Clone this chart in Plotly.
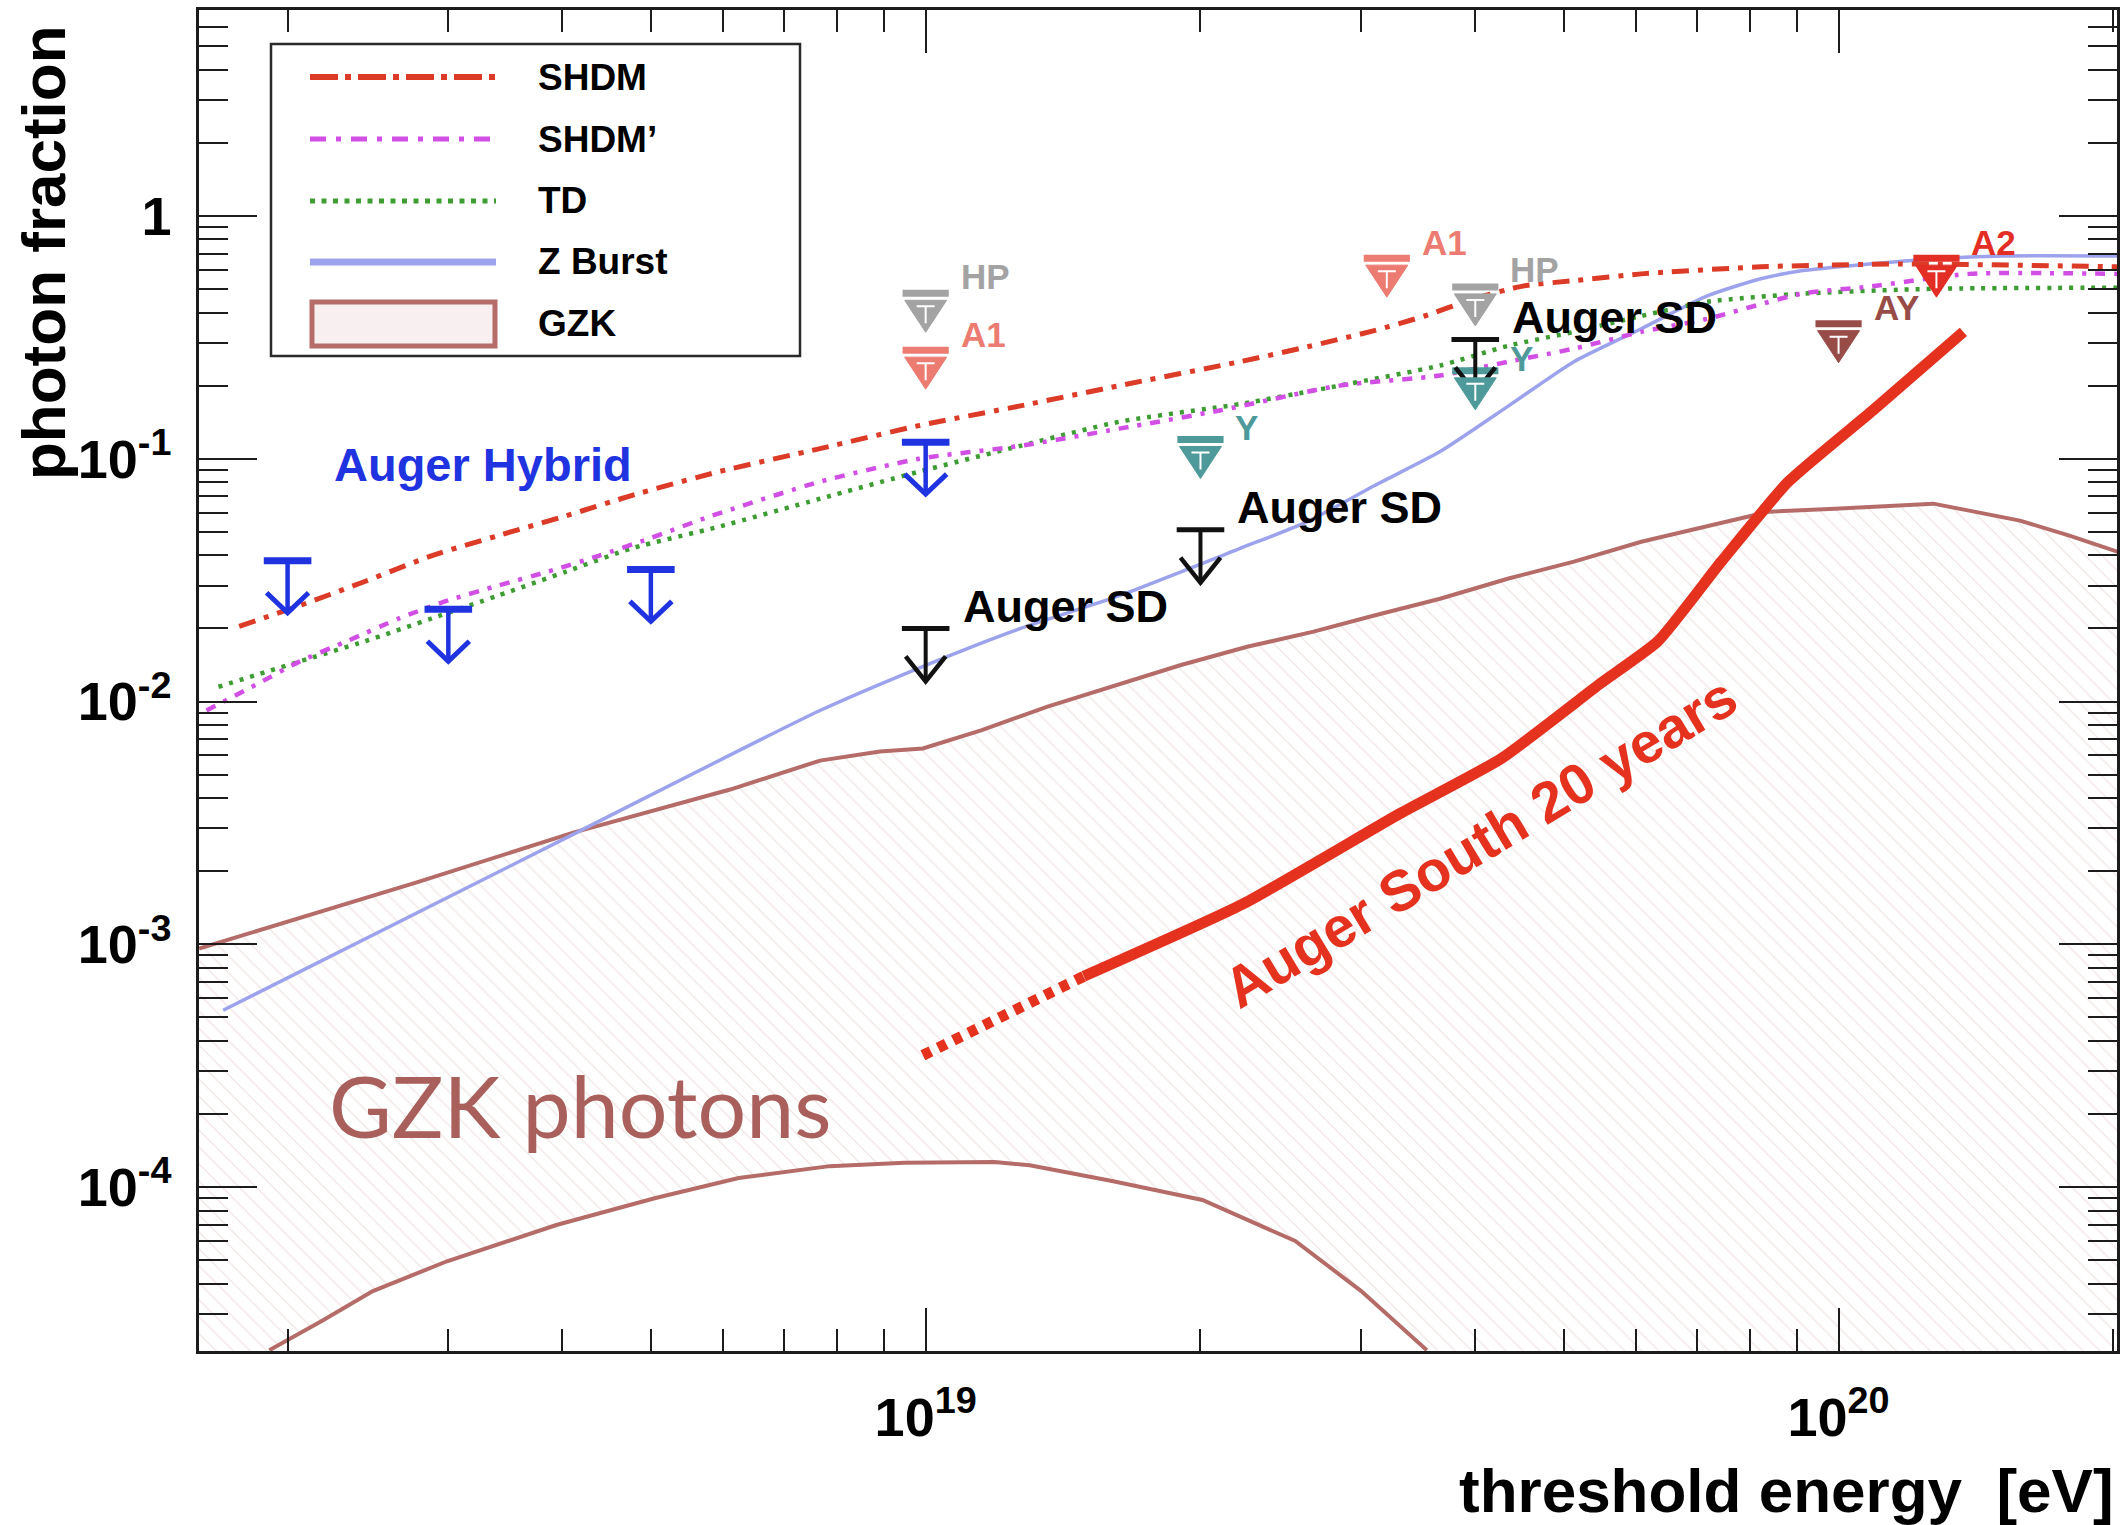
import numpy as np
import plotly.graph_objects as go

# ---------------------------------------------------------------------------
# Model predictions: photon fraction of the flux above threshold energy [eV]
# ---------------------------------------------------------------------------
shdm_E = [1.77e18, 2.06e18, 2.43e18, 2.88e18, 3.40e18, 4.04e18, 4.76e18, 5.94e18,
          7.66e18, 9.84e18, 1.27e19, 1.63e19, 2.21e19, 2.62e19, 3.10e19, 3.52e19,
          3.98e19, 4.52e19, 5.13e19, 6.08e19, 8.22e19, 1.17e20, 2.02e20]
shdm_f = [0.0204, 0.0248, 0.0312, 0.0399, 0.0482, 0.0582, 0.0705, 0.0885,
          0.110, 0.137, 0.165, 0.200, 0.251, 0.289, 0.337, 0.387,
          0.455, 0.515, 0.541, 0.577, 0.617, 0.634, 0.617]

shdmp_E = [1.63e18, 1.86e18, 2.06e18, 2.33e18, 2.65e18, 3.00e18, 3.40e18, 3.86e18,
           4.39e18, 4.98e18, 5.83e18, 7.66e18, 9.84e18, 1.27e19, 1.63e19, 2.10e19,
           2.84e19, 3.66e19, 4.35e19, 5.13e19, 6.08e19, 7.19e19, 9.10e19, 1.08e20,
           1.39e20, 2.02e20]
shdmp_f = [0.00918, 0.0119, 0.0146, 0.0178, 0.0220, 0.0261, 0.0300, 0.0343,
           0.0399, 0.0469, 0.0582, 0.0804, 0.100, 0.113, 0.133, 0.158,
           0.200, 0.220, 0.251, 0.284, 0.333, 0.377, 0.478, 0.511,
           0.577, 0.577]

td_E = [1.68e18, 2.06e18, 2.43e18, 2.88e18, 3.40e18, 4.04e18, 4.76e18, 5.94e18,
        7.66e18, 9.84e18, 1.27e19, 1.63e19, 2.21e19, 2.84e19, 3.66e19, 4.35e19,
        5.13e19, 6.08e19, 7.19e19, 9.10e19, 1.27e20, 2.02e20]
td_f = [0.0115, 0.0146, 0.0177, 0.0220, 0.0273, 0.0343, 0.0427, 0.0525,
        0.0684, 0.0885, 0.113, 0.142, 0.168, 0.200, 0.242, 0.292,
        0.333, 0.387, 0.443, 0.478, 0.501, 0.506]

zb_E = [1.70e18, 4.12e18, 7.66e18, 1.00e19, 1.27e19, 1.63e19, 2.21e19, 2.62e19,
        3.10e19, 3.66e19, 4.35e19, 5.13e19, 6.08e19, 7.19e19, 8.22e19, 9.10e19,
        1.08e20, 1.27e20, 1.51e20, 2.02e20]
zb_f = [5.35e-4, 2.85e-3, 9.18e-3, 1.41e-2, 2.00e-2, 2.73e-2, 4.27e-2, 5.51e-2,
        7.74e-2, 0.107, 0.165, 0.251, 0.343, 0.469, 0.551, 0.594,
        0.634, 0.665, 0.684, 0.684]

# GZK photon band: upper and lower edge
gzk_hi_E = [1.60e18, 2.77e18, 4.12e18, 6.12e18, 7.66e18, 8.91e18, 9.93e18, 1.15e19,
            1.36e19, 1.60e19, 1.90e19, 2.25e19, 2.66e19, 3.10e19, 3.66e19, 4.35e19,
            5.13e19, 6.08e19, 7.19e19, 8.38e19, 9.91e19, 1.27e20, 1.39e20, 1.58e20,
            1.79e20, 2.02e20]
gzk_hi_f = [9.6e-4, 1.80e-3, 2.89e-3, 4.35e-3, 5.71e-3, 6.22e-3, 6.41e-3, 7.60e-3,
            9.53e-3, 1.15e-2, 1.41e-2, 1.68e-2, 1.94e-2, 2.26e-2, 2.65e-2, 3.21e-2,
            3.77e-2, 4.55e-2, 5.30e-2, 6.05e-2, 6.22e-2, 6.53e-2, 6.11e-2, 5.56e-2,
            4.82e-2, 4.14e-2]
gzk_lo_E = [1.91e18, 2.18e18, 2.48e18, 2.99e18, 3.94e18, 5.06e18, 6.24e18, 7.85e18,
            9.48e18, 1.19e19, 1.30e19, 1.60e19, 2.01e19, 2.54e19, 3.00e19, 3.54e19]
gzk_lo_f = [2.13e-5, 2.81e-5, 3.73e-5, 4.95e-5, 6.98e-5, 9.02e-5, 1.09e-4, 1.22e-4,
            1.26e-4, 1.27e-4, 1.23e-4, 1.06e-4, 8.85e-5, 6.00e-5, 3.73e-5, 2.13e-5]

# Expected Auger South sensitivity after 20 years (dotted part = extrapolation)
south_ext_E = [9.93e18, 1.49e19]
south_ext_f = [3.49e-4, 7.38e-4]
south_E = [1.49e19, 2.23e19, 3.31e19, 4.27e19, 5.49e19, 6.34e19, 7.44e19, 8.81e19,
           1.09e20, 1.37e20]
south_f = [7.38e-4, 1.47e-3, 3.46e-3, 5.82e-3, 1.19e-2, 1.77e-2, 3.77e-2, 8.04e-2,
           0.158, 0.333]

# Upper limits on the photon fraction
hybrid_E = [2e18, 3e18, 5e18, 1e19]
hybrid_lim = [0.038, 0.024, 0.035, 0.117]
sd_E = [1e19, 2e19, 4e19]
sd_lim = [0.020, 0.051, 0.31]
hp_E = [1e19, 4e19]
hp_lim = [0.48, 0.51]
a1_E = [1e19, 3.2e19]
a1_lim = [0.28, 0.67]
yak_E = [2e19, 4e19]
yak_lim = [0.12, 0.23]
ay_E = [1e20]
ay_lim = [0.36]
a2_E = [1.28e20]
a2_lim = [0.67]

# ---------------------------------------------------------------------------
# Page / axis geometry
# ---------------------------------------------------------------------------
W, H = 2123, 1525
M_L, M_R, M_T, M_B = 199, 6, 10, 174
X_RANGE = [18.204, 20.305]          # log10(E / eV)
Y_RANGE = [-4.675, 0.848]           # log10(photon fraction)

FONT = "Liberation Sans, Arial, Helvetica, sans-serif"
AXIS_COLOR = "#1c1c1c"

C_SHDM = "#dc3b28"
C_SHDMP = "#d24fe6"
C_TD = "#3d9d32"
C_ZB = "#9ca3ec"
C_GZK = "#b56c68"
C_SOUTH = "#e4321f"
C_HYB = "#1f33e0"
C_SD = "#111111"
C_HP = "#a3a3a3"
C_A1 = "#ec7b71"
C_Y = "#4e9a9a"
C_AY = "#984c48"
C_A2 = "#e22e24"


def px_x(px):
    """page pixel column -> paper x"""
    return (px - M_L) / (W - M_L - M_R)


def px_y(py):
    """page pixel row -> paper y"""
    return (H - M_B - py) / (H - M_T - M_B)


fig = go.Figure()

# GZK band, hatched, closed along the bottom of the frame
floor = 10 ** (Y_RANGE[0] - 0.05)
band_x = gzk_hi_E + [10 ** X_RANGE[1]] + gzk_lo_E[::-1] + [10 ** X_RANGE[0]]
band_y = gzk_hi_f + [floor] + gzk_lo_f[::-1] + [floor]
fig.add_trace(go.Scatter(
    x=band_x, y=band_y, mode="none", fill="toself",
    fillcolor="rgba(255,255,255,0)",
    fillpattern=dict(shape="\\", size=12, solidity=0.11,
                     fgcolor="rgba(200,150,150,0.5)",
                     bgcolor="rgba(255,255,255,0)"),
    hoverinfo="skip"))

for xs, ys in ((gzk_hi_E, gzk_hi_f), (gzk_lo_E, gzk_lo_f)):
    fig.add_trace(go.Scatter(x=xs, y=ys, mode="lines",
                             line=dict(color=C_GZK, width=4)))

# theory curves
fig.add_trace(go.Scatter(x=zb_E, y=zb_f, mode="lines",
                         line=dict(color=C_ZB, width=3.5, shape="spline", smoothing=0.6)))
fig.add_trace(go.Scatter(x=td_E, y=td_f, mode="lines",
                         line=dict(color=C_TD, width=4.5, dash="4px,7px",
                                   shape="spline", smoothing=0.6)))
fig.add_trace(go.Scatter(x=shdmp_E, y=shdmp_f, mode="lines",
                         line=dict(color=C_SHDMP, width=4.5, dash="10px,9px,4px,9px",
                                   shape="spline", smoothing=0.6)))
fig.add_trace(go.Scatter(x=shdm_E, y=shdm_f, mode="lines",
                         line=dict(color=C_SHDM, width=5, dash="17px,9px,5px,9px",
                                   shape="spline", smoothing=0.6)))

# Auger South 20 years sensitivity
fig.add_trace(go.Scatter(x=south_ext_E, y=south_ext_f, mode="lines",
                         line=dict(color=C_SOUTH, width=11, dash="9px,8px")))
fig.add_trace(go.Scatter(x=south_E, y=south_f, mode="lines",
                         line=dict(color=C_SOUTH, width=11, shape="spline", smoothing=0.5)))

# ---------------------------------------------------------------------------
# Upper-limit symbols: horizontal bar (trace marker) + pixel-sized glyph below
# ---------------------------------------------------------------------------
shapes = []


def glyph_anchor(e, v):
    return dict(type="path", xref="x", yref="y", xsizemode="pixel", ysizemode="pixel",
                xanchor=e, yanchor=v, layer="above")


def arrow_limits(E, lim, color, bar_w, stem_w, head):
    fig.add_trace(go.Scatter(x=E, y=lim, mode="markers",
                             marker=dict(symbol="line-ew", size=34,
                                         line=dict(color=color, width=bar_w))))
    hx, hy, tip = head
    for e, v in zip(E, lim):
        shapes.append(dict(glyph_anchor(e, v), path=f"M0,0 L0,{-tip + 2}",
                           line=dict(color=color, width=stem_w)))
        shapes.append(dict(glyph_anchor(e, v),
                           path=f"M{-hx},{-hy} L0,{-tip} L{hx},{-hy}",
                           line=dict(color=color, width=stem_w + 0.5)))


def triangle_limits(E, lim, color):
    fig.add_trace(go.Scatter(x=E, y=lim, mode="markers",
                             marker=dict(symbol="line-ew", size=33,
                                         line=dict(color=color, width=7))))
    for e, v in zip(E, lim):
        shapes.append(dict(glyph_anchor(e, v), path="M-21,-7 L21,-7 L0,-39 Z",
                           fillcolor=color, line=dict(color=color, width=1)))
        shapes.append(dict(glyph_anchor(e, v), path="M-9,-13 L9,-13 M0,-13 L0,-30",
                           line=dict(color="white", width=2)))


arrow_limits(hybrid_E, hybrid_lim, C_HYB, 7, 4.5, (21, 32, 52))
arrow_limits(sd_E, sd_lim, C_SD, 5, 4, (20, 28, 53))
triangle_limits(hp_E, hp_lim, C_HP)
triangle_limits(a1_E, a1_lim, C_A1)
triangle_limits(yak_E, yak_lim, C_Y)
triangle_limits(ay_E, ay_lim, C_AY)
triangle_limits(a2_E, a2_lim, C_A2)

# ---------------------------------------------------------------------------
# Text labels
# ---------------------------------------------------------------------------
annotations = []


def data_label(E, v, text, color, size, xshift, yshift):
    annotations.append(dict(
        x=float(np.log10(E)), y=float(np.log10(v)), xref="x", yref="y",
        text=text, showarrow=False, xanchor="left", yanchor="middle",
        xshift=xshift, yshift=yshift,
        font=dict(family=FONT, size=size, color=color, weight="bold")))


for e, v in zip(sd_E, sd_lim):
    data_label(e, v, "Auger SD", "black", 45, 35, 22)
for E, L, name, col, dy in ((hp_E, hp_lim, "HP", C_HP, 17), (a1_E, a1_lim, "A1", C_A1, 16),
                            (yak_E, yak_lim, "Y", C_Y, 12), (ay_E, ay_lim, "AY", C_AY, 16),
                            (a2_E, a2_lim, "A2", C_A2, 16)):
    for e, v in zip(E, L):
        data_label(e, v, name, col, 35, 33, dy)

annotations.append(dict(
    x=18.350, y=-1.0255, xref="x", yref="y", text="Auger Hybrid", showarrow=False,
    xanchor="left", yanchor="middle",
    font=dict(family=FONT, size=47, color=C_HYB, weight="bold")))

annotations.append(dict(
    x=19.607, y=-2.578, xref="x", yref="y", text="Auger South 20 years",
    showarrow=False, xanchor="center", yanchor="middle", textangle=-31,
    font=dict(family=FONT, size=57, color=C_SOUTH, weight="bold")))

annotations.append(dict(
    x=18.3445, y=-3.661, xref="x", yref="y", text="GZK photons", showarrow=False,
    xanchor="left", yanchor="middle",
    font=dict(family="Lato, Open Sans, sans-serif", size=86, color="#a9605c")))

# axis titles
annotations.append(dict(
    x=px_x(44), y=px_y(253), xref="paper", yref="paper", text="photon fraction",
    showarrow=False, textangle=-90, xanchor="center", yanchor="middle",
    font=dict(family=FONT, size=62, color="black", weight="bold")))
annotations.append(dict(
    x=px_x(2116), y=px_y(1490), xref="paper", yref="paper",
    text="threshold energy\u00a0 [eV]", showarrow=False,
    xanchor="right", yanchor="middle",
    font=dict(family=FONT, size=62, color="black", weight="bold")))

# ---------------------------------------------------------------------------
# Legend box
# ---------------------------------------------------------------------------
shapes.append(dict(type="rect", xref="paper", yref="paper",
                   x0=px_x(271), x1=px_x(800), y0=px_y(356), y1=px_y(44),
                   line=dict(color="#2a2a2a", width=2.5), fillcolor="white", layer="above"))
legend_rows = [
    ("SHDM", 77, dict(color=C_SHDM, width=6, dash="28px,7px,6px,7px")),
    ("SHDM\u2019", 139, dict(color=C_SHDMP, width=5, dash="16px,10px,5px,10px")),
    ("TD", 201, dict(color=C_TD, width=5, dash="5px,6.5px")),
    ("Z Burst", 262, dict(color=C_ZB, width=7)),
    ("GZK", 323, None),
]
for label, row, style in legend_rows:
    if style is None:
        shapes.append(dict(type="rect", xref="paper", yref="paper",
                           x0=px_x(312), x1=px_x(495), y0=px_y(346), y1=px_y(302),
                           line=dict(color=C_GZK, width=5),
                           fillcolor="rgba(222,185,185,0.22)", layer="above"))
    else:
        shapes.append(dict(type="line", xref="paper", yref="paper",
                           x0=px_x(310), x1=px_x(496), y0=px_y(row), y1=px_y(row),
                           line=style, layer="above"))
    annotations.append(dict(
        x=px_x(536), y=px_y(row), xref="paper", yref="paper", text=label,
        showarrow=False, xanchor="left", yanchor="middle",
        font=dict(family=FONT, size=37, color="black", weight="bold")))

# ---------------------------------------------------------------------------
# Axes
# ---------------------------------------------------------------------------
x_lo, x_hi = 10 ** X_RANGE[0], 10 ** X_RANGE[1]
y_lo, y_hi = 10 ** Y_RANGE[0], 10 ** Y_RANGE[1]
x_minor = [m * 10.0 ** p for p in range(18, 21) for m in range(2, 10)
           if x_lo <= m * 10.0 ** p <= x_hi]
y_minor = [m * 10.0 ** p for p in range(-5, 1) for m in range(2, 10)
           if y_lo <= m * 10.0 ** p <= y_hi]

tick_font = dict(family=FONT, size=54, color="black", weight="bold")
common = dict(type="log", showline=True, linecolor=AXIS_COLOR, linewidth=2.5,
              mirror="ticks", ticks="inside", tickcolor=AXIS_COLOR, tickwidth=2,
              showgrid=False, zeroline=False, tickfont=tick_font)

fig.update_xaxes(**common, range=X_RANGE, tickmode="array",
                 tickvals=[1e19, 1e20],
                 ticktext=["10<sup>19</sup>", "10<sup>20</sup>"],
                 ticklen=43, ticklabelstandoff=17,
                 minor=dict(tickmode="array", tickvals=x_minor, ticks="inside",
                            ticklen=22, tickwidth=2, tickcolor=AXIS_COLOR, showgrid=False))
fig.update_yaxes(**common, range=Y_RANGE, tickmode="array",
                 tickvals=[1e-4, 1e-3, 1e-2, 1e-1, 1],
                 ticktext=["10<sup>-4</sup>", "10<sup>-3</sup>", "10<sup>-2</sup>",
                           "10<sup>-1</sup>", "1"],
                 ticklen=58, ticklabelstandoff=14,
                 minor=dict(tickmode="array", tickvals=y_minor, ticks="inside",
                            ticklen=29, tickwidth=2, tickcolor=AXIS_COLOR, showgrid=False))

fig.update_layout(
    width=W, height=H,
    margin=dict(l=M_L, r=M_R, t=M_T, b=M_B, autoexpand=False),
    paper_bgcolor="white", plot_bgcolor="white",
    showlegend=False,
    shapes=shapes, annotations=annotations,
)

fig.write_html("out.html", post_script="document.body.style.margin='0';")
